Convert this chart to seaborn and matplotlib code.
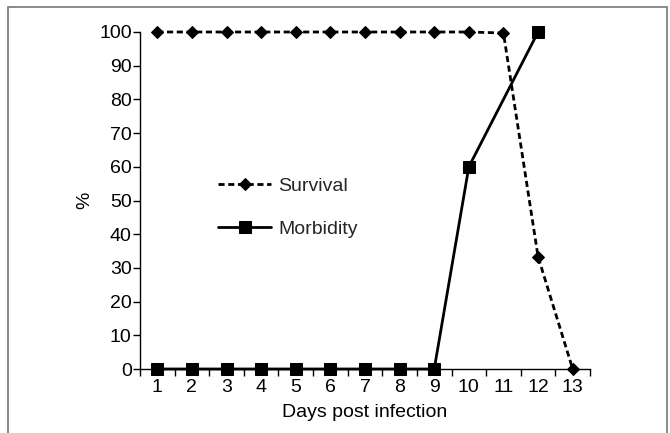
import matplotlib
matplotlib.use("Agg")
import matplotlib.pyplot as plt
import seaborn as sns
import pandas as pd
from matplotlib.patches import Rectangle

days = list(range(1, 14))
survival = [100, 100, 100, 100, 100, 100, 100, 100, 100, 100, 99.7, 33.3, 0]
morb_days = [1, 2, 3, 4, 5, 6, 7, 8, 9, 10, 12]
morbidity = [0, 0, 0, 0, 0, 0, 0, 0, 0, 60, 100]

sns.set_theme(style="ticks")
plt.rcParams['font.family'] = ['Liberation Sans', 'DejaVu Sans']

fig = plt.figure(figsize=(6.7, 4.33), dpi=100)
ax = fig.add_axes([140/670, 1 - 369/433, 450/670, 337/433])

df_s = pd.DataFrame({"day": days, "val": survival})
df_m = pd.DataFrame({"day": morb_days, "val": morbidity})

sns.lineplot(data=df_s, x="day", y="val", ax=ax, color="black", lw=2,
             linestyle=(0, (2.2, 1.3)), marker="D", markersize=6,
             markeredgecolor="black", label="Survival", clip_on=False)
sns.lineplot(data=df_m, x="day", y="val", ax=ax, color="black", lw=2,
             linestyle="-", marker="s", markersize=9,
             markeredgecolor="black", label="Morbidity", clip_on=False)

ax.set_xlim(0.5, 13.5)
ax.set_ylim(0, 100)
ax.set_yticks(range(0, 101, 10))
ax.set_xticks([d - 0.5 for d in days] + [13.5])
ax.set_xticklabels([])
ax.set_xticks(days, minor=True)
ax.set_xticklabels([str(d) for d in days], minor=True)
ax.tick_params(axis="x", which="major", length=5, width=1, direction="out", color="black")
ax.tick_params(axis="x", which="minor", length=0, labelsize=14, pad=7, colors="black")
ax.tick_params(axis="y", length=5, width=1, labelsize=14, pad=1, colors="black")
for s in ["top", "right"]:
    ax.spines[s].set_visible(False)
for s in ["left", "bottom"]:
    ax.spines[s].set_color("black")
    ax.spines[s].set_linewidth(1)

ax.set_xlabel("Days post infection", fontsize=14, color="black", labelpad=6)
ax.set_ylabel("%", fontsize=14, color="black", labelpad=4)

ax.legend(loc="upper left", bbox_to_anchor=(0.135, 0.62), frameon=False,
          fontsize=14, handlelength=2.7, labelspacing=1.3, handletextpad=0.4)

fig.patches.append(Rectangle((8/670, -0.05), 659/670, 1.05 - 7/433,
                             transform=fig.transFigure, fill=False,
                             edgecolor="#777777", lw=1.2))

fig.savefig("out.png", dpi=100)
